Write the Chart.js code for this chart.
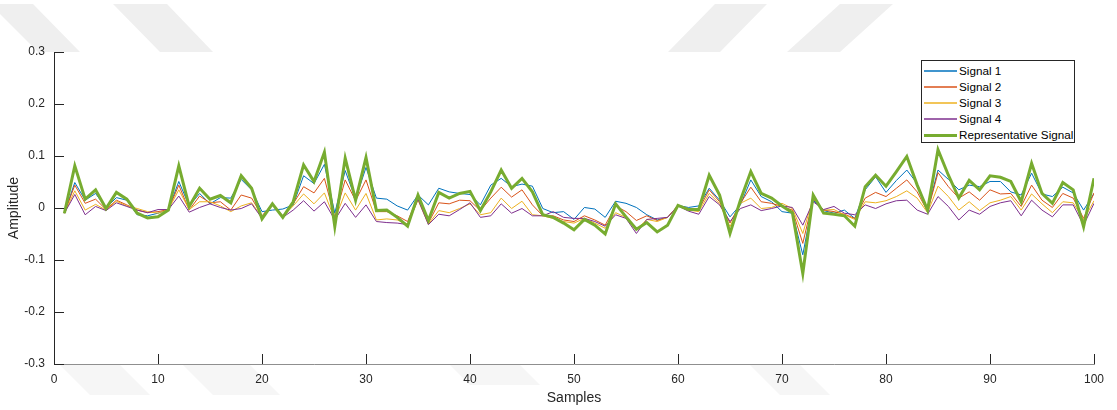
<!DOCTYPE html>
<html>
<head>
<meta charset="utf-8">
<script src="https://cdn.jsdelivr.net/npm/chart.js@4.4.1/dist/chart.umd.min.js"></script>
<style>
  html, body { margin: 0; padding: 0; background: #ffffff; }
  #wrap { position: relative; width: 1117px; height: 410px; }
  #c { position: absolute; left: 0; top: 0; }
  #legend { position: absolute; left: 921px; top: 60px; width: 154px; height: 83px;
            border: 1px solid #262626; background: #ffffff; box-sizing: border-box;
            font-family: "Liberation Sans", Arial, Helvetica, sans-serif; font-size: 11.7px; color: #000; padding-top: 2px; }
  .row { position: relative; height: 16px; line-height: 16px; }
  .sw { position: absolute; left: 2px; width: 33px; }
  .lbl { position: absolute; left: 37px; top: 0; white-space: nowrap; }
</style>
</head>
<body>
<div id="wrap">
  <canvas id="c" width="1117" height="410"></canvas>
  <div id="legend"></div>
</div>
<script>
// ---- data ----
const samples = Array.from({length: 100}, (_, i) => i + 1);
const seriesNames = ["Signal 1", "Signal 2", "Signal 3", "Signal 4", "Representative Signal"];
const seriesColors = ["#0072BD", "#D95319", "#EDB120", "#7E2F8E", "#77AC30"];

const signal1 = [
 -0.010, 0.049, 0.015, 0.028, 0.000, 0.020, 0.015, -0.013, -0.015, -0.010,
 -0.003, 0.051, 0.004, 0.028, 0.008, 0.020, 0.019, 0.055, 0.035, -0.007,
 -0.004, -0.002, 0.006, 0.062, 0.047, 0.084, -0.010, 0.072, 0.017, 0.078,
 0.019, 0.017, 0.004, -0.004, 0.025, 0.006, 0.038, 0.031, 0.028, 0.026,
 0.006, 0.044, 0.057, 0.041, 0.046, 0.042, -0.001, -0.009, -0.007, -0.022,
 0.001, -0.002, -0.018, 0.013, 0.009, 0.001, -0.013, -0.023, -0.018, 0.005,
 0.001, 0.004, 0.038, 0.015, -0.017, 0.006, 0.054, 0.022, 0.012, -0.007,
 -0.010, -0.090, 0.015, -0.005, -0.010, -0.004, -0.020, 0.035, 0.060, 0.030,
 0.053, 0.073, 0.047, -0.004, 0.073, 0.055, 0.035, 0.044, 0.041, 0.051,
 0.051, 0.031, 0.025, 0.067, 0.027, 0.022, 0.040, 0.029, -0.004, 0.028
];
const signal2 = [
 -0.010, 0.044, 0.009, 0.017, -0.003, 0.015, 0.006, -0.004, -0.009, -0.007,
 -0.003, 0.044, -0.004, 0.023, 0.010, 0.012, -0.004, 0.025, 0.019, -0.015,
 0.008, -0.015, 0.008, 0.041, 0.029, 0.057, -0.018, 0.054, 0.014, 0.054,
 -0.007, -0.007, -0.015, -0.026, 0.022, -0.029, 0.010, 0.008, 0.015, 0.014,
 -0.005, 0.019, 0.040, 0.021, 0.035, 0.006, -0.015, -0.015, -0.023, -0.026,
 -0.015, -0.023, -0.033, 0.004, -0.007, -0.024, -0.015, -0.024, -0.018, 0.005,
 -0.001, -0.003, 0.035, 0.012, -0.029, 0.009, 0.040, 0.012, 0.009, 0.003,
 -0.004, -0.068, 0.017, -0.004, -0.007, -0.012, -0.020, 0.019, 0.030, 0.022,
 0.038, 0.054, 0.031, -0.007, 0.068, 0.041, 0.019, 0.031, 0.015, 0.035,
 0.027, 0.028, 0.003, 0.044, 0.015, 0.001, 0.028, 0.019, -0.020, 0.029
];
const signal3 = [
 -0.010, 0.033, -0.004, 0.007, -0.004, 0.013, 0.004, -0.001, -0.007, -0.010,
 -0.003, 0.035, -0.003, 0.012, 0.012, 0.004, -0.007, 0.004, 0.010, -0.018,
 0.006, -0.017, 0.004, 0.027, 0.008, 0.029, -0.022, 0.029, -0.004, 0.028,
 -0.023, -0.021, -0.023, -0.031, 0.015, -0.031, -0.005, -0.009, -0.001, 0.008,
 -0.013, -0.009, 0.019, -0.001, 0.013, -0.013, -0.015, -0.020, -0.026, -0.029,
 -0.020, -0.029, -0.039, -0.009, -0.018, -0.042, -0.022, -0.026, -0.018, 0.005,
 -0.004, -0.007, 0.028, 0.008, -0.036, 0.009, 0.019, -0.001, 0.001, 0.009,
 -0.001, -0.049, 0.019, -0.004, -0.003, -0.013, -0.022, 0.012, 0.010, 0.014,
 0.022, 0.033, 0.019, -0.009, 0.042, 0.022, -0.004, 0.012, -0.005, 0.010,
 0.015, 0.022, -0.004, 0.027, 0.008, -0.009, 0.012, 0.010, -0.023, 0.014
];
const signal4 = [
 -0.010, 0.026, -0.013, 0.003, -0.005, 0.010, 0.003, -0.004, -0.009, -0.003,
 -0.003, 0.023, -0.008, 0.001, 0.008, 0.001, -0.004, -0.001, 0.008, -0.020,
 0.006, -0.018, -0.004, 0.014, -0.006, 0.012, -0.023, 0.009, -0.018, 0.006,
 -0.026, -0.028, -0.029, -0.032, 0.017, -0.032, -0.012, -0.015, -0.003, 0.010,
 -0.018, -0.015, 0.008, -0.010, -0.001, -0.015, -0.015, -0.007, -0.018, -0.020,
 -0.020, -0.026, -0.035, -0.013, -0.020, -0.049, -0.022, -0.020, -0.018, 0.004,
 -0.006, -0.012, 0.022, 0.006, -0.026, -0.001, 0.006, -0.005, -0.001, 0.004,
 0.001, -0.033, 0.012, -0.003, 0.003, -0.010, -0.013, 0.006, -0.001, 0.008,
 0.014, 0.015, -0.004, -0.012, 0.022, 0.003, -0.023, -0.004, -0.012, 0.003,
 0.010, 0.014, -0.015, 0.015, -0.004, -0.017, 0.006, 0.006, -0.033, 0.009
];
const representative = [
 -0.010, 0.081, 0.017, 0.035, -0.001, 0.030, 0.017, -0.010, -0.019, -0.017,
 -0.004, 0.081, 0.003, 0.038, 0.017, 0.024, 0.010, 0.062, 0.038, -0.021,
 0.008, -0.018, 0.012, 0.083, 0.051, 0.107, -0.036, 0.096, 0.015, 0.097,
 -0.005, -0.004, -0.018, -0.035, 0.025, -0.024, 0.030, 0.019, 0.028, 0.032,
 -0.005, 0.031, 0.073, 0.038, 0.057, 0.031, -0.013, -0.018, -0.029, -0.042,
 -0.022, -0.033, -0.050, 0.008, -0.017, -0.041, -0.028, -0.046, -0.033, 0.005,
 -0.003, -0.003, 0.063, 0.025, -0.049, 0.015, 0.070, 0.028, 0.019, 0.004,
 -0.009, -0.126, 0.025, -0.010, -0.012, -0.015, -0.035, 0.041, 0.063, 0.042,
 0.070, 0.099, 0.044, -0.004, 0.112, 0.063, 0.019, 0.053, 0.035, 0.062,
 0.059, 0.051, 0.012, 0.086, 0.028, 0.009, 0.049, 0.035, -0.036, 0.057
];
const xTicks = [0, 10, 20, 30, 40, 50, 60, 70, 80, 90, 100];
const yTicks = [-0.3, -0.2, -0.1, 0, 0.1, 0.2, 0.3];

// ---- chart ----
const allSeries = [signal1, signal2, signal3, signal4, representative];
const FONT = '"Liberation Sans", Arial, Helvetica, sans-serif';

const datasets = allSeries.map((vals, k) => ({
  label: seriesNames[k],
  data: samples.map((s, i) => ({x: s, y: vals[i]})),
  borderColor: seriesColors[k],
  backgroundColor: seriesColors[k],
  borderWidth: k === 4 ? 3 : 1,
  pointRadius: 0,
  tension: 0,
  fill: false,
  order: k === 4 ? 0 : 5 - k
}));

// faint background watermark shapes (decoration, behind the axes)
const watermark = {
  id: 'watermark',
  beforeDraw(chart) {
    const ctx = chart.ctx;
    const top = [
      [[-10,4],[33,4],[80,52],[38,52]],
      [[113,4],[167,4],[213,52],[160,52]],
      [[715,4],[767,4],[720,52],[668,52]],
      [[840,4],[893,4],[840,52],[787,52]]
    ];
    const bottom = [
      [[60,365],[120,365],[150,395],[90,395]],
      [[183,365],[250,365],[280,395],[213,395]],
      [[450,365],[520,365],[540,385],[470,385]],
      [[750,365],[800,365],[830,395],[780,395]]
    ];
    const fillPolys = (polys, col) => {
      ctx.fillStyle = col;
      polys.forEach(p => {
        ctx.beginPath();
        ctx.moveTo(p[0][0], p[0][1]);
        for (let i = 1; i < p.length; i++) ctx.lineTo(p[i][0], p[i][1]);
        ctx.closePath();
        ctx.fill();
      });
    };
    ctx.save();
    fillPolys(top, '#efefef');
    fillPolys(bottom, '#f6f6f6');
    const a = chart.chartArea;
    ctx.fillStyle = '#ffffff';
    ctx.fillRect(a.left, a.top, a.right - a.left, a.bottom - a.top);
    ctx.restore();
  }
};

// inward tick marks like the original (drawn from the library's scales)
const inwardTicks = {
  id: 'inwardTicks',
  afterDraw(chart) {
    const ctx = chart.ctx;
    const a = chart.chartArea;
    const xs = chart.scales.x, ys = chart.scales.y;
    const L = 10;
    ctx.save();
    ctx.strokeStyle = '#262626';
    ctx.lineWidth = 1;
    ctx.beginPath();
    xs.ticks.forEach(t => {
      const px = Math.round(xs.getPixelForValue(t.value)) + 0.5;
      ctx.moveTo(px, a.bottom);
      ctx.lineTo(px, a.bottom - L);
    });
    ys.ticks.forEach(t => {
      const py = Math.round(ys.getPixelForValue(t.value)) + 0.5;
      ctx.moveTo(a.left, py);
      ctx.lineTo(a.left + L, py);
    });
    ctx.stroke();
    ctx.restore();
  }
};

const chart = new Chart(document.getElementById('c'), {
  type: 'line',
  data: { datasets },
  options: {
    responsive: false,
    animation: false,
    events: [],
    layout: { padding: { top: 52, right: 23, left: 0, bottom: 0 } },
    plugins: { legend: { display: false }, tooltip: { enabled: false } },
    scales: {
      x: {
        type: 'linear',
        min: 0, max: 100,
        afterBuildTicks: s => { s.ticks = xTicks.map(v => ({value: v})); },
        afterFit: s => { s.height = 46; },
        grid: { display: false, drawTicks: false },
        border: { display: true, color: '#8f8f8f', width: 1 },
        ticks: { color: '#262626', font: { family: FONT, size: 12 }, padding: 8, maxRotation: 0,
                 callback: v => String(v) },
        title: { display: true, text: 'Samples', color: '#262626',
                 font: { family: FONT, size: 14 }, padding: { top: 0, bottom: 3 } }
      },
      y: {
        min: -0.3, max: 0.3,
        afterBuildTicks: s => { s.ticks = yTicks.map(v => ({value: v})); },
        afterFit: s => { s.width = 54; },
        grid: { display: false, drawTicks: false },
        border: { display: true, color: '#262626', width: 1 },
        ticks: { color: '#262626', font: { family: FONT, size: 12 }, padding: 9,
                 callback: v => String(Math.round(v * 10) / 10) },
        title: { display: true, text: 'Amplitude', color: '#262626',
                 font: { family: FONT, size: 14 }, padding: { top: 6, bottom: 0 } }
      }
    }
  },
  plugins: [watermark, inwardTicks]
});

// legend built from the chart's datasets
const leg = document.getElementById('legend');
chart.data.datasets.forEach(ds => {
  const row = document.createElement('div');
  row.className = 'row';
  const sw = document.createElement('div');
  sw.className = 'sw';
  const thin = ds.borderWidth < 2;
  sw.style.height = (thin ? 2 : ds.borderWidth) + 'px';
  sw.style.top = (thin ? 7 : 8 - Math.floor(ds.borderWidth / 2)) + 'px';
  sw.style.backgroundColor = ds.borderColor;
  if (thin) sw.style.opacity = '0.75';
  const lbl = document.createElement('span');
  lbl.className = 'lbl';
  lbl.textContent = ds.label;
  row.appendChild(sw); row.appendChild(lbl);
  leg.appendChild(row);
});
</script>
</body>
</html>
